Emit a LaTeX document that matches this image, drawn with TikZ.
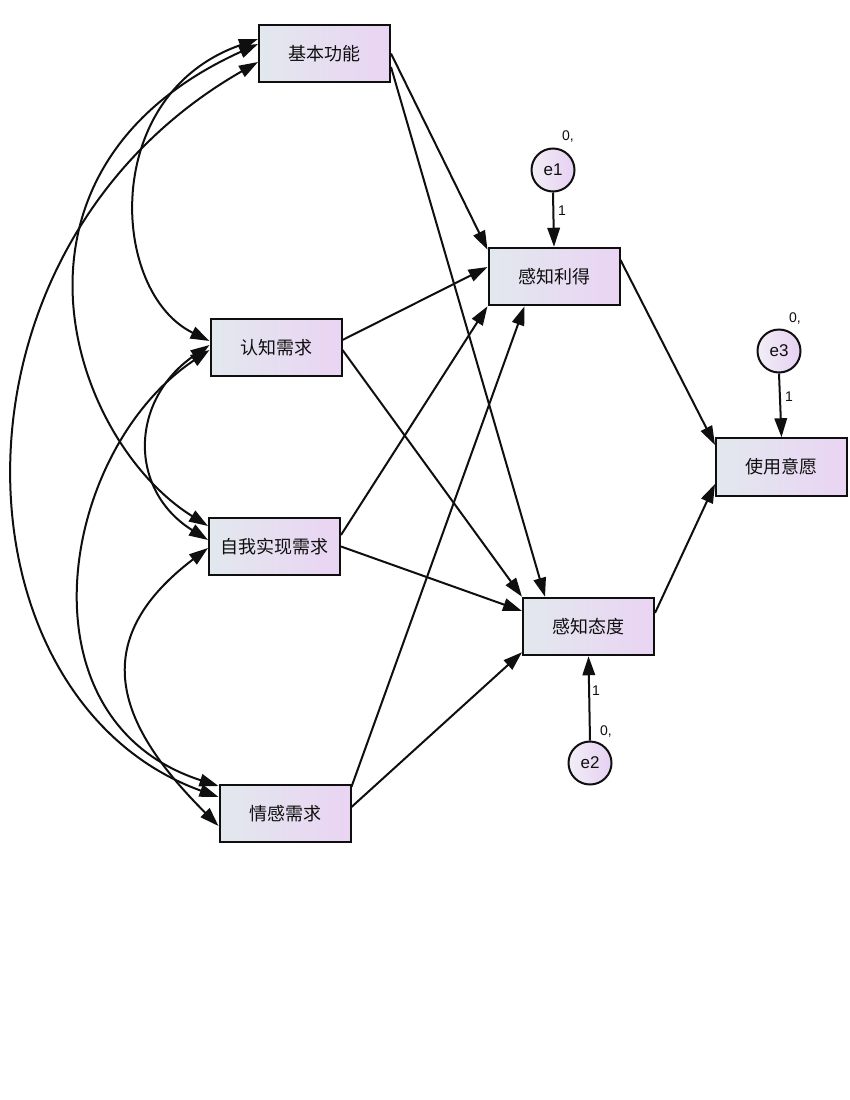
\documentclass[tikz,border=0pt]{standalone}
\usepackage{fontspec}
\setmainfont{Liberation Sans}
\newfontfamily\cjk{Noto Sans CJK SC}
\usetikzlibrary{arrows.meta,calc}
\definecolor{boxL}{RGB}{226,232,238}
\definecolor{boxR}{RGB}{234,212,243}
\definecolor{cirL}{RGB}{242,238,246}
\definecolor{cirR}{RGB}{230,208,242}
\definecolor{ink}{RGB}{15,15,15}
\begin{document}
\begin{tikzpicture}[x=1pt,y=-1pt,
  obs/.style={draw=ink, line width=2pt, rectangle, minimum width=131pt, minimum height=57.5pt, inner sep=0pt,
    left color=boxL, right color=boxR, font=\cjk\fontsize{18}{20}\selectfont, text=ink},
  err/.style={draw=ink, line width=2pt, circle, minimum size=43pt, inner sep=0pt,
    left color=cirL, right color=cirR, font=\fontsize{17}{19}\selectfont, text=ink},
  lbl/.style={font=\fontsize{14}{16}\selectfont, text=ink, inner sep=0pt},
  reg/.style={draw=ink, line width=2pt, -{Triangle[length=19pt,width=12.5pt]}},
  cov/.style={draw=ink, line width=2pt, {Triangle[length=19pt,width=12.5pt]}-{Triangle[length=19pt,width=12.5pt]}}]
\useasboundingbox[fill=white] (0,0) rectangle (850,1100);

% observed variables
\node[obs] (jb)  at (324.5,53.5) {基本功能};
\node[obs] (rz)  at (276,347.5)  {认知需求};
\node[obs] (zw)  at (274.5,546.5) {自我实现需求};
\node[obs] (qg)  at (285,813.5)  {情感需求};
\node[obs] (ly)  at (554,276.5)  {感知利得};
\node[obs] (tai) at (588.5,626.5) {感知态度};
\node[obs] (yy)  at (781.5,467)  {使用意愿};

% error terms
\node[err] (e1) at (553,170) {e1};
\node[err] (e3) at (779,351) {e3};
\node[err] (e2) at (590,763) {e2};

% labels
\node[lbl] (v1) at (568,137) {0,};
\node[lbl] (v3) at (795,319) {0,};
\node[lbl] (v2) at (606,731) {0,};
\node[lbl] (w1) at (562,211) {1};
\node[lbl] (w3) at (789,397) {1};
\node[lbl] (w2) at (596,691) {1};

% covariances
\draw[cov] ([yshift=14.5pt]jb.west) .. controls +(-158,55) and +(-100,-49) .. ([yshift=6.5pt]rz.west);
\draw[cov] ([yshift=9.5pt]jb.west) .. controls +(-278,126) and +(-138,-86) .. ([yshift=20.5pt]zw.west);
\draw[cov] ([yshift=-8.5pt]jb.west) .. controls +(-328,188) and +(-269,-97) .. ([yshift=16.5pt]qg.west);
\draw[cov] ([yshift=2.5pt]rz.west) .. controls +(-80,55) and +(-80,-50) .. ([yshift=6.5pt]zw.west);
\draw[cov] ([yshift=-2.5pt]rz.west) .. controls +(-150,100) and +(-204,-66) .. ([yshift=27.5pt]qg.west);
\draw[cov] ([yshift=-1.5pt]zw.west) .. controls +(-125,95) and +(-98.8,-98.8) .. ([yshift=-12.5pt]qg.west);

% regression paths
\draw[reg] (jb.east) -- ([yshift=-3pt]ly.north west);
\draw[reg] ([yshift=-13.5pt]jb.east) -- ([xshift=23pt]tai.north west);
\draw[reg] ([yshift=7.5pt]rz.east) -- ([yshift=9.5pt]ly.west);
\draw[reg] ([yshift=-2.5pt]rz.east) -- (tai.north west);
\draw[reg] ([yshift=11.5pt]zw.east) -- (ly.south west);
\draw[reg] (zw.east) -- ([yshift=15.5pt]tai.west);
\draw[reg] ([yshift=-3pt]qg.north east) -- ([xshift=37pt]ly.south west);
\draw[reg] ([yshift=6.5pt]qg.east) -- ([yshift=4pt]tai.south west);
\draw[reg] ([yshift=16.5pt]ly.east) -- ([yshift=22pt]yy.west);
\draw[reg] ([yshift=13.5pt]tai.east) -- ([yshift=-17pt]yy.west);
\draw[reg] (e1.south) -- (ly.north);
\draw[reg] (e3.south) -- (yy.north);
\draw[reg] (e2.north) -- (tai.south);
\end{tikzpicture}
\end{document}
